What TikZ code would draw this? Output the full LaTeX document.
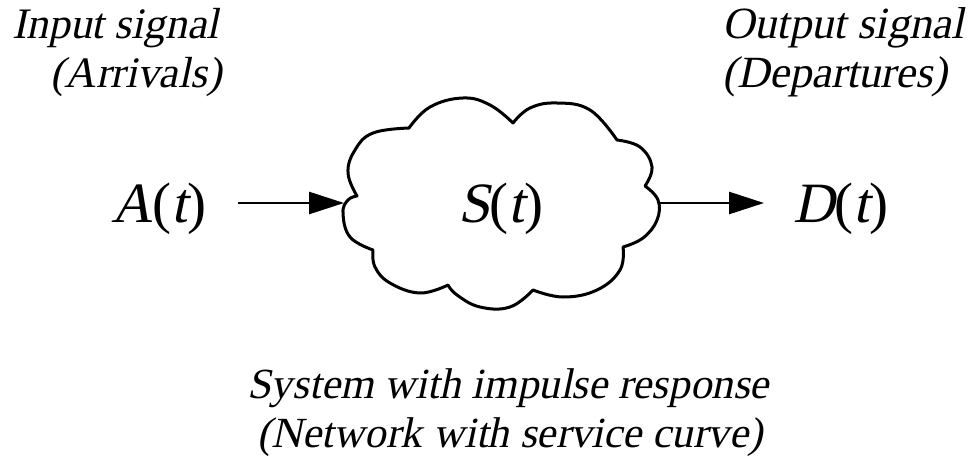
\documentclass[tikz,border=0pt]{standalone}
\usepackage{fontspec}
\setmainfont{Liberation Serif}
\newfontfamily\tmsit{Liberation Serif}[FakeSlant=0.21]
\usetikzlibrary{arrows.meta}
\begin{document}
\begin{tikzpicture}[x=1pt,y=-1pt,
  lbl/.style={font=\fontsize{43.5}{50}\selectfont\tmsit, inner sep=0pt},
  lblr/.style={font=\fontsize{44.6}{52}\selectfont\tmsit, inner sep=0pt},
  lblb/.style={font=\fontsize{43}{50}\selectfont\tmsit, inner sep=0pt},
  big/.style={font=\fontsize{57}{66}\selectfont, inner sep=0pt},
  arr/.style={line width=2.7pt, -{Triangle[length=35pt,width=22pt]}},
  cloudline/.style={line width=3pt, fill=white, line join=round}]
\path[fill=white] (0,0) rectangle (974,460);
\useasboundingbox (0,0) rectangle (974,460);
% cloud
\draw[cloudline]
  plot[smooth,tension=0.7] coordinates {(357,196) (348,173) (355,150) (373,133) (409,128)}
  -- plot[smooth,tension=0.7] coordinates {(409,128) (430,107) (463,98) (490,105) (513,123)}
  -- plot[smooth,tension=0.7] coordinates {(513,123) (530,108) (557,103) (590,110) (617,140)}
  -- plot[smooth,tension=0.7] coordinates {(617,140) (640,147) (652,167) (645,186)}
  -- plot[smooth,tension=0.7] coordinates {(645,186) (658,200) (657,220) (643,238) (623,247)}
  -- plot[smooth,tension=0.7] coordinates {(623,247) (620,270) (597,290) (563,297) (533,290)}
  -- plot[smooth,tension=0.7] coordinates {(533,290) (510,307) (480,307) (457,295) (448,285)}
  -- plot[smooth,tension=0.7] coordinates {(448,285) (420,293) (390,283) (375,267) (373,250)}
  -- plot[smooth,tension=0.7] coordinates {(373,250) (350,237) (343,213) (348,200) (357,196)}
  -- cycle;
\node[big, anchor=base] (S) at (501,222) {{\tmsit S}({\tmsit t})};
\node[big, anchor=base] (A) at (159,222) {{\tmsit A}({\tmsit t})};
\node[big, anchor=base] (D) at (841,222) {{\tmsit D}({\tmsit t})};
\coordinate (a1) at (238,203);
\coordinate (cin) at (344,203);
\coordinate (cout) at (658,203);
\coordinate (d1) at (764,203);
\draw[arr] (a1) -- (cin);
\draw[arr] (cout) -- (d1);
\node[lbl, anchor=base west] (in1) at (12,39) {Input signal};
\node[lbl, anchor=base west] (in2) at (50,88) {(Arrivals)};
\node[lblr, anchor=base west] (out1) at (722,38) {Output signal};
\node[lblr, anchor=base west] (out2) at (722,88) {(Departures)};
\node[lblb, anchor=base] (sys1) at (508,398) {System with impulse response};
\node[lblb, anchor=base] (sys2) at (510,447) {(Network with service curve)};
\end{tikzpicture}
\end{document}
